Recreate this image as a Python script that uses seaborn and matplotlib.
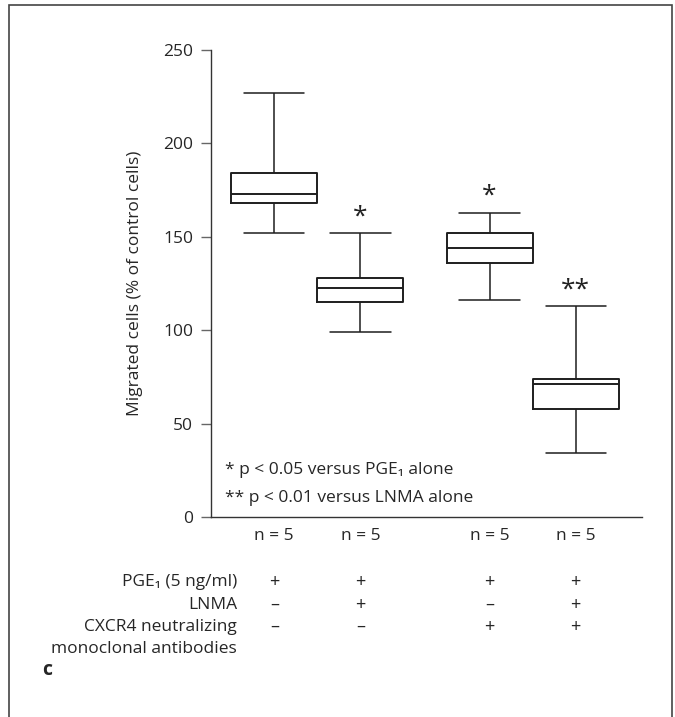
import numpy as np
import pandas as pd
import matplotlib.pyplot as plt
import matplotlib.transforms as mtransforms
from matplotlib.patches import Rectangle
import seaborn as sns

# box summary values (% of control cells)
whisker_low = [152, 99, 116, 34]
q1 = [168, 115, 136, 58]
medians = [173, 122.5, 144, 71]
q3 = [184, 128, 152, 74]
whisker_high = [227, 152, 163, 113]
n_labels = ['n = 5', 'n = 5', 'n = 5', 'n = 5']
stars = ['', '*', '*', '**']

row_labels = ['PGE\u2081 (5 ng/ml)', 'LNMA', 'CXCR4 neutralizing']
pge1 = ['+', '+', '+', '+']
lnma = ['\u2013', '+', '\u2013', '+']
cxcr4 = ['\u2013', '\u2013', '+', '+']

# layout: gap between the two pairs of boxes
group_pos = [0, 1, 2.5, 3.5]

# 5 points per box -> linear quartiles land exactly on q1/median/q3
rows = []
for i, p in enumerate(group_pos):
    for v in (whisker_low[i], q1[i], medians[i], q3[i], whisker_high[i]):
        rows.append({'pos': p, 'val': v})
df = pd.DataFrame(rows)

sns.set_theme(style='ticks')
plt.rcParams['font.family'] = ['Open Sans', 'DejaVu Sans']
fs = 12.5
plt.rcParams['font.size'] = fs

fig = plt.figure(figsize=(6.75, 7.17), dpi=100)
ax = fig.add_axes([211/675, 1-517/717, (642-211)/675, (517-50)/717])

line_c = '#1e1e1e'
sns.boxplot(data=df, x='pos', y='val', native_scale=True, fill=False,
            color=line_c, width=1.0, whis=(0, 100), linewidth=1.4,
            capwidths=0.7, ax=ax,
            whiskerprops={'linewidth': 1.1}, capprops={'linewidth': 1.1})

ax.set_xlim(-0.735, 4.27)
ax.set_ylim(0, 250)
ax.set_yticks([0, 50, 100, 150, 200, 250])
ax.set_xticks(group_pos)
ax.set_xticklabels(n_labels, fontsize=fs)
ax.tick_params(axis='x', length=0, pad=8)
ax.tick_params(axis='y', length=7, width=1, color='#666666', pad=6,
               labelsize=fs)
ax.set_xlabel('')
ax.set_ylabel('Migrated cells (% of control cells)', fontsize=fs)
ax.yaxis.set_label_coords(-0.158, 0.5)

sns.despine(ax=ax)
for s in ('left', 'bottom'):
    ax.spines[s].set_color('#333333')
    ax.spines[s].set_linewidth(1.0)

# significance marks
for p, s, hi in zip(group_pos, stars, whisker_high):
    if s:
        ax.text(p, hi + 2, s, ha='center', va='bottom', fontsize=19,
                color='#222222')

ax.text(0.033, 0.1, '* p < 0.05 versus PGE\u2081 alone', transform=ax.transAxes,
        fontsize=fs, va='center')
ax.text(0.033, 0.04, '** p < 0.01 versus LNMA alone', transform=ax.transAxes,
        fontsize=fs, va='center')

# treatment table below the axis
trans = mtransforms.blended_transform_factory(ax.transData, fig.transFigure)
row_y = [1-582/717, 1-605/717, 1-627/717]
for lab, y, signs in zip(row_labels, row_y, [pge1, lnma, cxcr4]):
    fig.text(237/675, y, lab, ha='right', va='center', fontsize=fs)
    for p, s in zip(group_pos, signs):
        ax.text(p, y, s, transform=trans, ha='center', va='center',
                fontsize=13, clip_on=False)
fig.text(237/675, 1-649/717, 'monoclonal antibodies', ha='right',
         va='center', fontsize=fs)
fig.text(42/675, 1-670/717, 'c', ha='left', va='center', fontsize=14,
         fontweight='bold')

# outer frame
fig.patches.append(Rectangle((9/675, -0.02), (672-9)/675, 1.02-5/717,
                             transform=fig.transFigure, fill=False,
                             edgecolor='#444444', linewidth=1.2))

fig.savefig('out.png', dpi=100)
